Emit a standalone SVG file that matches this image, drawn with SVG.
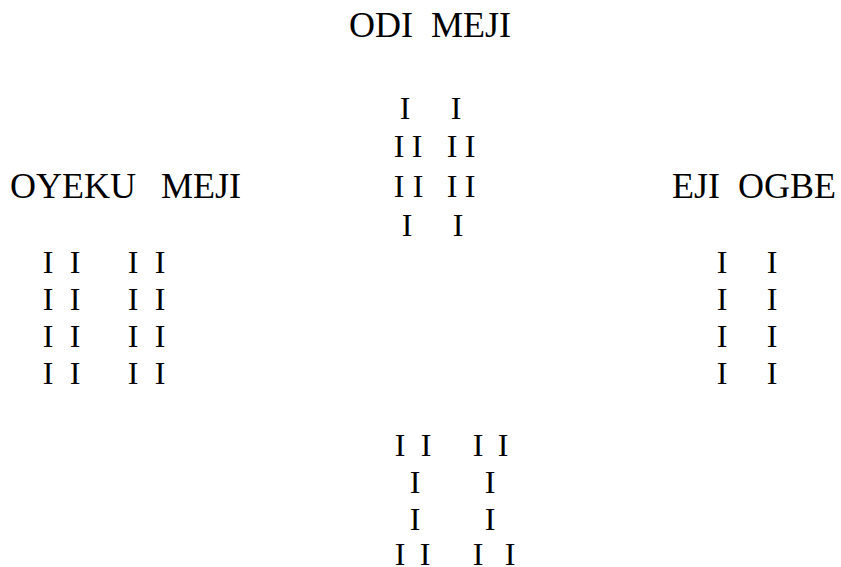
<svg xmlns="http://www.w3.org/2000/svg" width="841" height="567" viewBox="0 0 841 567">
<style>
  .title { font-family: "Liberation Serif", "Times New Roman", serif; font-size: 36px; fill: #000; }
  .mark { font-family: "Liberation Serif", "Times New Roman", serif; font-size: 32px; fill: #000; text-anchor: middle; }
</style>
<rect width="841" height="567" fill="#fff"/>
<g id="odi-meji">
  <text class="title" x="430" y="37" text-anchor="middle" xml:space="preserve">ODI  MEJI</text>
  <text class="mark" y="119"><tspan x="405">I</tspan><tspan x="456">I</tspan></text>
  <text class="mark" y="157"><tspan x="399">I</tspan><tspan x="417">I</tspan><tspan x="452">I</tspan><tspan x="470">I</tspan></text>
  <text class="mark" y="197"><tspan x="399">I</tspan><tspan x="418">I</tspan><tspan x="452">I</tspan><tspan x="470">I</tspan></text>
  <text class="mark" y="236"><tspan x="407">I</tspan><tspan x="458">I</tspan></text>
</g>
<g id="oyeku-meji">
  <text class="title" y="198" xml:space="preserve"><tspan x="10">OYEKU</tspan><tspan x="161">MEJI</tspan></text>
  <text class="mark" y="273"><tspan x="48">I</tspan><tspan x="75">I</tspan><tspan x="133">I</tspan><tspan x="160">I</tspan></text>
  <text class="mark" y="310"><tspan x="48">I</tspan><tspan x="75">I</tspan><tspan x="133">I</tspan><tspan x="160">I</tspan></text>
  <text class="mark" y="347"><tspan x="48">I</tspan><tspan x="75">I</tspan><tspan x="133">I</tspan><tspan x="160">I</tspan></text>
  <text class="mark" y="384"><tspan x="48">I</tspan><tspan x="75">I</tspan><tspan x="133">I</tspan><tspan x="160">I</tspan></text>
</g>
<g id="eji-ogbe">
  <text class="title" x="672" y="198" xml:space="preserve">EJI  OGBE</text>
  <text class="mark" y="273"><tspan x="722">I</tspan><tspan x="772">I</tspan></text>
  <text class="mark" y="310"><tspan x="722">I</tspan><tspan x="772">I</tspan></text>
  <text class="mark" y="347"><tspan x="722">I</tspan><tspan x="772">I</tspan></text>
  <text class="mark" y="384"><tspan x="722">I</tspan><tspan x="772">I</tspan></text>
</g>
<g id="bottom-figure">
  <text class="mark" y="456"><tspan x="400">I</tspan><tspan x="426">I</tspan><tspan x="478">I</tspan><tspan x="503">I</tspan></text>
  <text class="mark" y="493"><tspan x="415">I</tspan><tspan x="490">I</tspan></text>
  <text class="mark" y="530"><tspan x="415">I</tspan><tspan x="490">I</tspan></text>
  <text class="mark" y="565"><tspan x="400">I</tspan><tspan x="425">I</tspan><tspan x="478">I</tspan><tspan x="510">I</tspan></text>
</g>
</svg>
